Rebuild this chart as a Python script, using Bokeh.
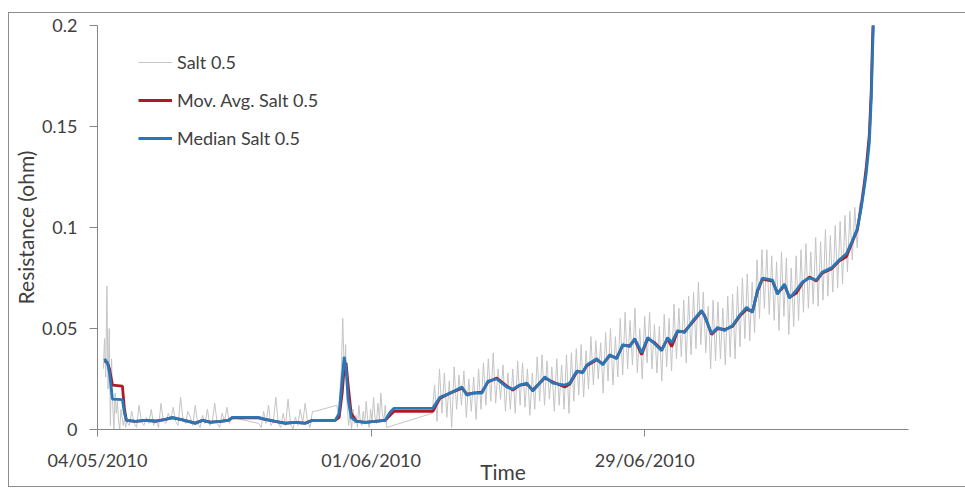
import pandas as pd
from bokeh.plotting import figure
from bokeh.models import Range1d, FixedTicker, DatetimeTickFormatter
from bokeh.embed import file_html
from bokeh.resources import INLINE

START = pd.Timestamp("2010-05-04")
X_END_DAYS = 83
xtick_days = [0, 28, 56]
ytick_values = [0, 0.05, 0.1, 0.15, 0.2]
ytick_labels = ["0", "0.05", "0.1", "0.15", "0.2"]

# ---- raw "Salt 0.5" samples (segments of regular sampling; gaps between segments) ----
raw_seg_starts = [0.6, 3.0, 16.5, 24.5, 34.25]
raw_seg_steps = [0.12, 0.25, 0.25, 0.15, 0.25]
raw_seg1 = [0.030, 0.045, 0.026, 0.071, 0.020, 0.050, 0.002, 0.035, 0.012, 0.000,
            0.018, 0.008, 0.014, 0.004, 0.000, 0.010, 0.006, 0.002, 0.005, 0.001]
raw_seg2 = [0.004, 0.002, 0.009, 0.003, 0.001, 0.012, 0.004, 0.002, 0.006, 0.003,
            0.010, 0.002, 0.005, 0.001, 0.013, 0.004, 0.003, 0.008, 0.005, 0.011,
            0.004, 0.002, 0.016, 0.005, 0.003, 0.009, 0.006, 0.002, 0.012, 0.003,
            0.001, 0.007, 0.003, 0.010, 0.002, 0.004, 0.013, 0.003, 0.001, 0.008,
            0.004, 0.011, 0.003, 0.006]
raw_seg3 = [0.003, 0.001, 0.009, 0.003, 0.012, 0.002, 0.004, 0.016, 0.003, 0.001,
            0.008, 0.002, 0.015, 0.003, 0.000, 0.006, 0.002, 0.010, 0.003, 0.013,
            0.004, 0.001, 0.009, 0.009]
raw_seg4 = [0.012, 0.006, 0.016, 0.030, 0.055, 0.028, 0.042, 0.012, 0.002, 0.008,
            0.000, 0.010, 0.003, 0.007, 0.001, 0.012, 0.004, 0.002, 0.009, 0.003,
            0.014, 0.005, 0.001, 0.010, 0.004, 0.016, 0.006, 0.003, 0.013, 0.005,
            0.018, 0.008, 0.004, 0.012, 0.001]
raw_seg5 = [0.008,
            0.022, 0.004, 0.030, 0.008, 0.028, 0.006, 0.024, 0.001,
            0.031, 0.010, 0.027, 0.012, 0.029, 0.006, 0.025, 0.009,
            0.026, 0.005, 0.030, 0.010, 0.033, 0.012, 0.035, 0.014,
            0.038, 0.013, 0.030, 0.015, 0.032, 0.009, 0.028, 0.010,
            0.030, 0.008, 0.034, 0.012, 0.033, 0.011, 0.030, 0.007,
            0.028, 0.010, 0.036, 0.014, 0.037, 0.012, 0.034, 0.015,
            0.031, 0.009, 0.035, 0.012, 0.032, 0.010, 0.037, 0.008,
            0.038, 0.014, 0.040, 0.017, 0.042, 0.016, 0.039, 0.020,
            0.046, 0.022, 0.044, 0.025, 0.043, 0.018, 0.048, 0.024,
            0.050, 0.022, 0.046, 0.026, 0.055, 0.027, 0.058, 0.030,
            0.054, 0.032, 0.060, 0.028, 0.050, 0.025, 0.056, 0.033,
            0.058, 0.030, 0.052, 0.028, 0.051, 0.024, 0.057, 0.031,
            0.055, 0.029, 0.062, 0.035, 0.060, 0.036, 0.064, 0.033,
            0.066, 0.037, 0.068, 0.040, 0.073, 0.042, 0.068, 0.038,
            0.061, 0.030, 0.064, 0.034, 0.063, 0.035, 0.060, 0.032,
            0.066, 0.036, 0.067, 0.035, 0.071, 0.041, 0.075, 0.045,
            0.077, 0.044, 0.073, 0.048, 0.084, 0.055, 0.089, 0.060,
            0.089, 0.057, 0.086, 0.054, 0.083, 0.049, 0.088, 0.056,
            0.085, 0.047, 0.080, 0.051, 0.086, 0.054, 0.089, 0.058,
            0.092, 0.060, 0.088, 0.062, 0.095, 0.061, 0.093, 0.064,
            0.099, 0.066, 0.096, 0.068, 0.101, 0.070, 0.103, 0.072,
            0.106, 0.078, 0.108, 0.084,
            0.110, 0.090, 0.112]
raw_tail_days = [78.2, 78.5, 78.7, 79.0, 79.2, 79.3, 79.45]
raw_tail_vals = [0.112, 0.121, 0.130, 0.145, 0.166, 0.186, 0.205]

# ---- smoothed series (shared sample days) ----
smooth_days = [0.72, 1.02, 1.23, 1.53, 2.55, 2.76, 2.96, 3.88, 4.9, 5.93, 6.95, 7.66, 8.48, 9.3,
               10.01, 10.73, 11.55, 12.57, 13.39, 13.8, 16.45, 17.17, 18.19, 19.21, 20.23, 21.26,
               21.97, 24.32, 24.73, 25.04, 25.24, 25.44, 25.65, 25.96, 26.47, 27.39, 28.41, 29.43,
               29.94, 30.35, 34.33, 34.64, 35.05, 36.07, 37.3, 37.81, 38.42, 39.34, 39.96, 40.87,
               41.9, 42.51, 43.23, 43.94, 44.55, 45.78, 46.6, 47.82, 48.33, 49.05, 49.66, 50.07,
               51.09, 51.71, 52.42, 53.14, 53.75, 54.47, 54.98, 55.69, 56.31, 57.02, 57.74, 58.35,
               58.76, 59.37, 60.09, 60.8, 61.82, 62.13, 62.85, 63.46, 64.17, 64.99, 65.71, 66.42,
               67.03, 67.55, 68.06, 69.08, 69.59, 70.0, 70.31, 70.82, 71.53, 72.14, 72.86, 73.58,
               74.19, 75.11, 75.93, 76.64, 77.26, 77.77, 78.17, 78.48, 78.68, 78.99, 79.19, 79.3,
               79.4, 79.5]
median_vals = [0.035, 0.033, 0.028, 0.015, 0.0148, 0.008, 0.0045, 0.004, 0.0045, 0.004, 0.005,
               0.006, 0.005, 0.004, 0.003, 0.0045, 0.0035, 0.004, 0.0045, 0.006, 0.006, 0.005,
               0.004, 0.003, 0.0035, 0.003, 0.0045, 0.0045, 0.008, 0.025, 0.036, 0.03, 0.015,
               0.006, 0.004, 0.0035, 0.004, 0.0045, 0.0085, 0.0105, 0.0105, 0.013, 0.016, 0.018,
               0.021, 0.017, 0.018, 0.018, 0.024, 0.025, 0.021, 0.020, 0.022, 0.023, 0.019, 0.026,
               0.023, 0.022, 0.023, 0.029, 0.028, 0.032, 0.035, 0.032, 0.037, 0.035, 0.042, 0.041,
               0.045, 0.038, 0.0455, 0.0425, 0.039, 0.0455, 0.043, 0.049, 0.048, 0.053, 0.059,
               0.056, 0.0475, 0.0505, 0.049, 0.0515, 0.0565, 0.0605, 0.058, 0.069, 0.075, 0.074,
               0.067, 0.070, 0.072, 0.065, 0.069, 0.073, 0.075, 0.074, 0.078, 0.080, 0.084, 0.087,
               0.0935, 0.0995, 0.11, 0.12, 0.127, 0.142, 0.164, 0.184, 0.2, 0.21]
movavg_vals = [0.034, 0.033, 0.03, 0.022, 0.0215, 0.01, 0.0045, 0.004, 0.0045, 0.0042, 0.005,
               0.0058, 0.005, 0.004, 0.0032, 0.0045, 0.0037, 0.004, 0.0045, 0.0058, 0.0058, 0.005,
               0.004, 0.0032, 0.0035, 0.0032, 0.0045, 0.0045, 0.006, 0.018, 0.03, 0.033, 0.022,
               0.008, 0.0042, 0.0035, 0.004, 0.0045, 0.007, 0.009, 0.009, 0.012, 0.0155, 0.018,
               0.0205, 0.0175, 0.018, 0.0185, 0.0235, 0.0255, 0.0215, 0.0195, 0.022, 0.0225, 0.0195,
               0.0255, 0.0235, 0.021, 0.0225, 0.0285, 0.0285, 0.0315, 0.0345, 0.0325, 0.0365,
               0.0355, 0.0415, 0.0415, 0.0445, 0.037, 0.045, 0.043, 0.0395, 0.045, 0.041, 0.0485,
               0.0485, 0.0525, 0.0585, 0.0565, 0.047, 0.05, 0.0495, 0.051, 0.056, 0.0595, 0.0585,
               0.0685, 0.0745, 0.0735, 0.0675, 0.0695, 0.0715, 0.0655, 0.0675, 0.0725, 0.0755,
               0.0735, 0.0775, 0.0795, 0.0835, 0.0855, 0.093, 0.099, 0.111, 0.122, 0.13, 0.146,
               0.168, 0.19, 0.205, 0.215]


def to_time(days):
    return [START + pd.Timedelta(days=d) for d in days]


raw_days, raw_vals = [], []
for s0, st, seg in zip(raw_seg_starts, raw_seg_steps,
                       [raw_seg1, raw_seg2, raw_seg3, raw_seg4, raw_seg5]):
    raw_days += [s0 + i * st for i in range(len(seg))]
    raw_vals += seg
raw_days += raw_tail_days
raw_vals += raw_tail_vals

TEXT = "#404040"
FONT = "Lato"

p = figure(width=956, height=473, x_axis_type="datetime",
           x_range=Range1d(START, START + pd.Timedelta(days=X_END_DAYS)),
           y_range=Range1d(0, 0.2),
           output_backend="svg", toolbar_location=None,
           min_border_left=88, min_border_right=57, min_border_top=12, min_border_bottom=57)
p.styles = {"margin-left": "9px", "margin-top": "13px",
            "outline": "1px solid #8c8c8c"}
p.outline_line_color = None
p.grid.visible = False
p.background_fill_color = "white"
p.border_fill_color = "white"

p.line(to_time(raw_days), raw_vals, line_color="#c4c4c4", line_width=1, legend_label="Salt 0.5")
p.line(to_time(smooth_days), movavg_vals, line_color="#ad1a24", line_width=2.8,
       legend_label="Mov. Avg. Salt 0.5")
p.line(to_time(smooth_days), median_vals, line_color="#2877b8", line_width=2.8,
       legend_label="Median Salt 0.5")

# axes
p.xaxis.ticker = FixedTicker(ticks=[(START + pd.Timedelta(days=d)).timestamp() * 1000 for d in xtick_days])
fmt = "%d/%m/%Y"
p.xaxis.formatter = DatetimeTickFormatter(days=fmt, months=fmt, years=fmt, hours=fmt,
                                          hourmin=fmt, minutes=fmt, minsec=fmt, seconds=fmt,
                                          milliseconds=fmt, microseconds=fmt)
p.yaxis.ticker = FixedTicker(ticks=ytick_values)
p.yaxis.major_label_overrides = {v: l for v, l in zip(ytick_values, ytick_labels)}

for ax in (p.xaxis[0], p.yaxis[0]):
    ax.axis_line_color = "#868686"
    ax.major_tick_line_color = "#868686"
    ax.minor_tick_line_color = None
    ax.major_tick_in = 0
    ax.major_label_text_font = FONT
    ax.major_label_text_font_size = "18px"
    ax.major_label_text_color = TEXT
    ax.axis_label_text_font = FONT
    ax.axis_label_text_font_size = "21px"
    ax.axis_label_text_font_style = "normal"
    ax.axis_label_text_color = TEXT

p.xaxis.major_tick_out = 7
p.xaxis.major_label_standoff = 12
p.xaxis.axis_label = "Time"
p.xaxis.axis_label_standoff = -15

p.yaxis.major_tick_out = 8
p.yaxis.major_label_standoff = 12
p.yaxis.axis_label = "Resistance (ohm)"
p.yaxis.axis_label_standoff = 1

lg = p.legend[0]
lg.location = (41, 280)
lg.margin = 0
lg.padding = 0
lg.spacing = 16
lg.glyph_width = 34
lg.label_standoff = 5
lg.label_text_font = FONT
lg.label_text_font_size = "18px"
lg.label_text_color = TEXT
lg.background_fill_alpha = 0
lg.border_line_alpha = 0

open("out.html", "w").write(file_html(p, INLINE))
